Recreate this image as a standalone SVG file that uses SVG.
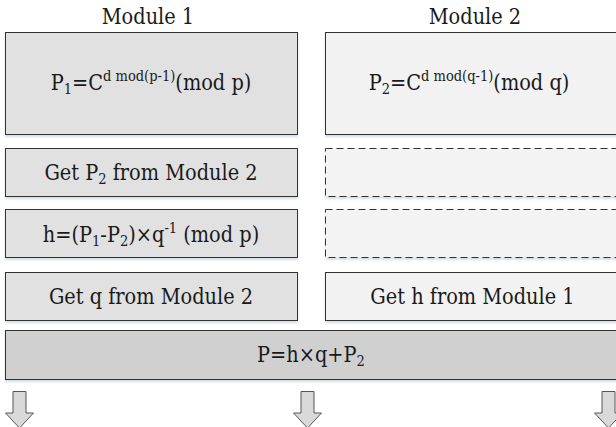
<svg xmlns="http://www.w3.org/2000/svg" width="616" height="427" viewBox="0 0 616 427">
<defs>
<filter id="sh" x="-5%" y="-20%" width="110%" height="150%">
<feDropShadow dx="0" dy="2" stdDeviation="1.2" flood-color="#9db3cc" flood-opacity="0.45"/>
</filter>
<path id="arrow" d="M-6.5,391.5 L6.5,391.5 L6.5,413 L14,413 L0,428 L-14,413 L-6.5,413 Z"/>
</defs>
<style>
text{font-family:"DejaVu Serif Condensed","DejaVu Serif","Liberation Serif",serif;font-size:21.5px;fill:#1a1a1a;text-anchor:middle}
.box{stroke:#333;stroke-width:1;filter:url(#sh)}
.m1{fill:#e1e1e1}
.m2{fill:#f2f2f2}
.dash{fill:#f3f3f3;stroke-dasharray:7,4}
.res{fill:#d0d0d0}
.s{font-size:14.5px}
.arr{fill:#d9d9d9;stroke:#555;stroke-width:1}
</style>
<g id="title1"><text x="148" y="24">Module 1</text></g>
<g id="title2"><text x="475" y="24">Module 2</text></g>
<g id="n1">
<rect class="box m1" x="5.5" y="32.5" width="292" height="102"/>
<text x="151" y="90">P<tspan class="s" dy="4">1</tspan><tspan dy="-4">=C</tspan><tspan class="s" dy="-9">d mod(p-1)</tspan><tspan dy="9">(mod p)</tspan></text>
</g>
<g id="n2">
<rect class="box m2" x="325.5" y="32.5" width="300" height="102"/>
<text x="469" y="90">P<tspan class="s" dy="4">2</tspan><tspan dy="-4">=C</tspan><tspan class="s" dy="-9">d mod(q-1)</tspan><tspan dy="9">(mod q)</tspan></text>
</g>
<g id="n3">
<rect class="box m1" x="5.5" y="148.5" width="292" height="48"/>
<text x="151" y="180">Get P<tspan class="s" dy="4">2</tspan><tspan dy="-4"> from Module 2</tspan></text>
</g>
<g id="n4">
<rect class="box dash" x="325.5" y="148.5" width="300" height="48"/>
</g>
<g id="n5">
<rect class="box m1" x="5.5" y="209.5" width="292" height="48"/>
<text x="151" y="242">h=(P<tspan class="s" dy="4">1</tspan><tspan dy="-4">-P</tspan><tspan class="s" dy="4">2</tspan><tspan dy="-4">)×q</tspan><tspan class="s" dy="-9">-1</tspan><tspan dy="9"> (mod p)</tspan></text>
</g>
<g id="n6">
<rect class="box dash" x="325.5" y="209.5" width="300" height="48"/>
</g>
<g id="n7">
<rect class="box m1" x="5.5" y="272.5" width="292" height="48"/>
<text x="151" y="304">Get q from Module 2</text>
</g>
<g id="n8">
<rect class="box m2" x="325.5" y="272.5" width="300" height="48"/>
<text x="472.5" y="304">Get h from Module 1</text>
</g>
<g id="n9">
<rect class="box res" x="5.5" y="330.5" width="620" height="49"/>
<text x="311" y="362">P=h×q+P<tspan class="s" dy="4">2</tspan></text>
</g>
<g id="connectors">
<use href="#arrow" class="arr" x="19.5" y="0"/>
<use href="#arrow" class="arr" x="307.5" y="0"/>
<use href="#arrow" class="arr" x="608.5" y="0"/>
</g>
</svg>
